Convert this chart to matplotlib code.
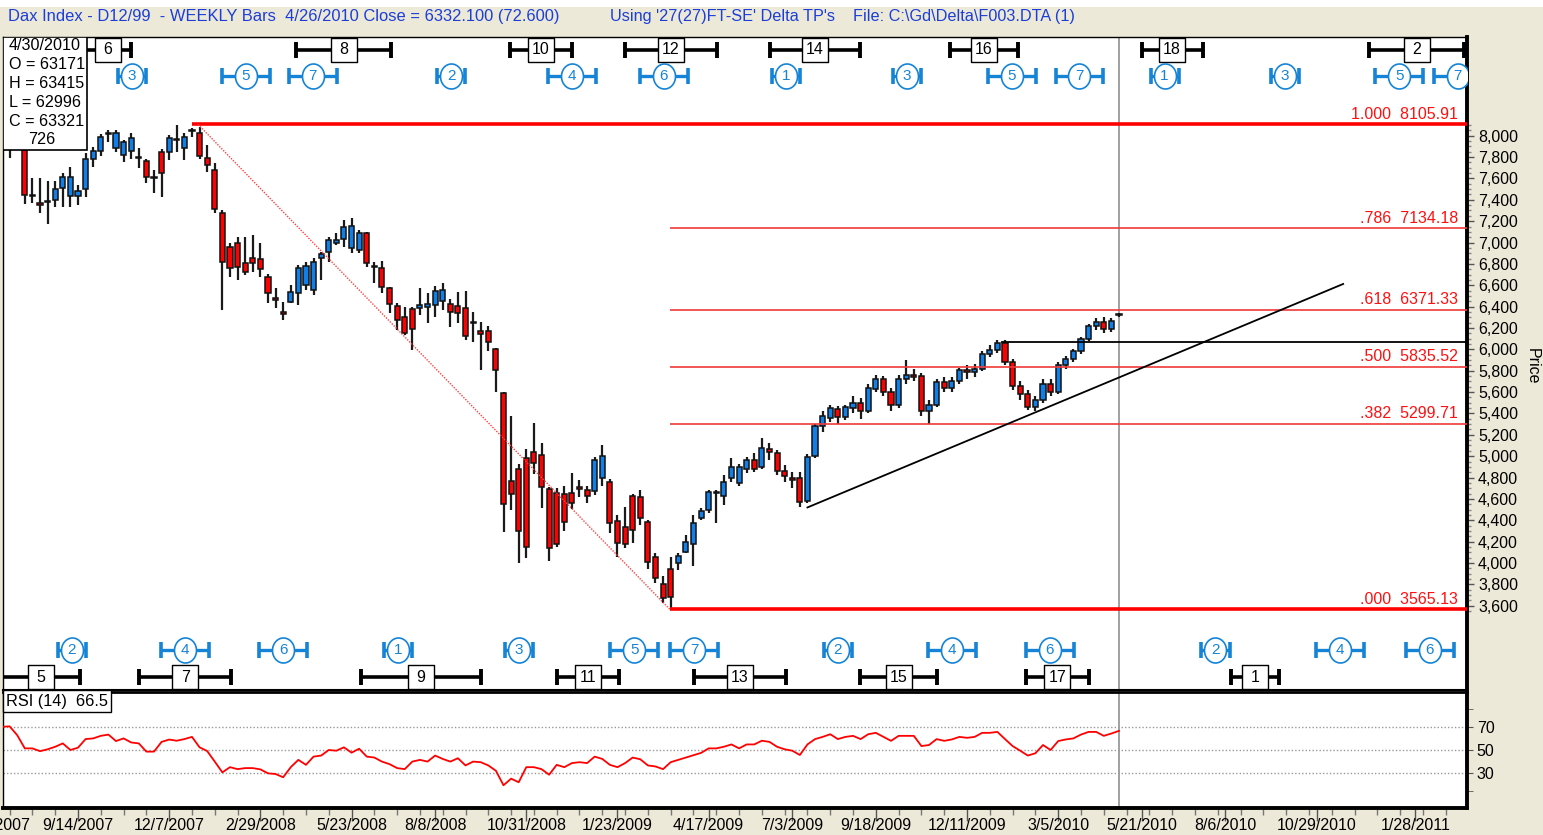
import matplotlib
matplotlib.use("Agg")
import matplotlib.pyplot as plt
import matplotlib.dates as mdates
import matplotlib.transforms as mtransforms
from matplotlib.patches import Rectangle
import numpy as np
import pandas as pd

plt.rcParams['font.family'] = ['Liberation Sans', 'DejaVu Sans']

# ---- data (weekly bars, first bar = week ending 7/6/2007) ----
first_week = '2007-07-06'
opens = [7980, 8000, 8060, 7866, 7443, 7373, 7380, 7398, 7513, 7440,
         7435, 7498, 7779, 7857, 8013, 7882, 7819, 7860, 7800, 7766,
         7612, 7851, 7851, 7958, 7882, 8047, 8028, 7788, 7679, 7279,
         6955, 6998, 6811, 6852, 6842, 6680, 6468, 6346, 6446, 6530,
         6602, 6555, 6852, 6914, 6998, 7030, 6945, 6930, 7086, 6775,
         6764, 6571, 6405, 6299, 6374, 6390, 6399, 6415, 6452, 6421,
         6405, 6384, 6245, 6171, 6171, 6000, 5594, 4767, 4876, 4979,
         5042, 5011, 4692, 4652, 4642, 4658, 4699, 4683, 4674, 4792,
         4755, 4396, 4334, 4630, 4621, 4380, 4053, 3800, 3940, 3997,
         4106, 4174, 4418, 4496, 4658, 4630, 4792, 4745, 4880, 4960,
         4900, 5070, 5030, 4860, 4800, 4800, 4580, 5000, 5280, 5360,
         5440, 5370, 5450, 5500, 5420, 5630, 5720, 5600, 5480, 5720,
         5760, 5750, 5420, 5480, 5690, 5640, 5700, 5810, 5790, 5820,
         5960, 5990, 6060, 5880, 5660, 5580, 5460, 5530, 5680, 5600,
         5850, 5910, 5980, 6100, 6220, 6260, 6190, 6317]
highs = [8060, 8140, 8100, 7880, 7601, 7607, 7576, 7576, 7654, 7710,
         7538, 7835, 7891, 8016, 8053, 8053, 7960, 8022, 7882, 7779,
         7679, 7872, 8007, 8100, 8022, 8069, 8078, 7913, 7748, 7304,
         6992, 7055, 7055, 7070, 6992, 6705, 6571, 6446, 6602, 6789,
         6821, 6852, 6914, 7055, 7086, 7211, 7226, 7117, 7101, 6821,
         6827, 6587, 6430, 6399, 6399, 6571, 6530, 6593, 6618, 6468,
         6540, 6549, 6352, 6259, 6218, 6009, 5603, 5376, 4926, 5063,
         5307, 5126, 4714, 4699, 4720, 4839, 4777, 4720, 4989, 5104,
         4783, 4449, 4521, 4642, 4683, 4402, 4096, 3881, 4059, 4090,
         4262, 4449, 4511, 4680, 4683, 4824, 4980, 4930, 4990, 5030,
         5170, 5120, 5060, 4920, 4850, 4850, 5020, 5300, 5420, 5480,
         5470, 5480, 5560, 5540, 5680, 5760, 5750, 5640, 5760, 5900,
         5820, 5780, 5530, 5720, 5740, 5740, 5830, 5850, 5860, 5980,
         6040, 6090, 6090, 5910, 5700, 5620, 5560, 5720, 5720, 5880,
         5940, 6000, 6120, 6240, 6290, 6300, 6290, 6342]
lows = [7940, 7790, 7880, 7361, 7367, 7279, 7173, 7329, 7329, 7330,
        7351, 7423, 7704, 7810, 7944, 7851, 7757, 7779, 7694, 7554,
        7460, 7429, 7772, 7851, 7772, 7991, 7779, 7663, 7279, 6368,
        6680, 6649, 6696, 6727, 6680, 6430, 6384, 6274, 6430, 6415,
        6555, 6508, 6649, 6821, 6977, 6961, 6899, 6899, 6774, 6618,
        6530, 6337, 6181, 6134, 5994, 6321, 6249, 6306, 6368, 6212,
        6249, 6087, 6072, 5806, 5987, 5603, 4293, 4496, 3996, 4049,
        4830, 4518, 4021, 4152, 4299, 4502, 4614, 4564, 4636, 4720,
        4277, 4059, 4143, 4184, 4355, 3940, 3809, 3628, 3565, 3934,
        4090, 3975, 4402, 4465, 4377, 4543, 4761, 4720, 4840, 4850,
        4880, 4960, 4820, 4760, 4700, 4520, 4560, 4980, 5230, 5320,
        5300, 5340, 5400, 5350, 5400, 5600, 5560, 5420, 5450, 5680,
        5700, 5380, 5300, 5460, 5600, 5600, 5680, 5720, 5740, 5800,
        5930, 5970, 5850, 5620, 5530, 5430, 5420, 5500, 5560, 5580,
        5820, 5880, 5960, 6080, 6180, 6150, 6160, 6300]
closes = [8040, 8060, 7900, 7445, 7437, 7351, 7376, 7498, 7616, 7610,
          7485, 7779, 7857, 7991, 8028, 8028, 7944, 7975, 7795, 7610,
          7608, 7648, 7975, 7962, 7991, 8050, 7810, 7726, 7311, 6821,
          6758, 6768, 6727, 6805, 6749, 6524, 6466, 6327, 6540, 6758,
          6780, 6821, 6892, 7023, 7023, 7148, 7154, 7086, 6805, 6773,
          6580, 6424, 6274, 6156, 6187, 6415, 6421, 6546, 6555, 6349,
          6337, 6125, 6243, 6140, 6065, 5806, 4549, 4643, 4299, 4146,
          4939, 4714, 4137, 4174, 4380, 4558, 4697, 4627, 4964, 5001,
          4371, 4184, 4174, 4309, 4424, 4012, 3856, 3669, 3678, 4065,
          4199, 4371, 4486, 4668, 4662, 4755, 4902, 4900, 4960, 4880,
          5080, 5040, 4860, 4810, 4780, 4570, 4990, 5280, 5380, 5450,
          5370, 5460, 5500, 5420, 5640, 5720, 5600, 5480, 5720, 5760,
          5740, 5420, 5480, 5690, 5640, 5700, 5810, 5790, 5820, 5960,
          5990, 6060, 5880, 5660, 5580, 5460, 5530, 5680, 5600, 5850,
          5910, 5980, 6100, 6220, 6260, 6190, 6270, 6332]
rsi = [70.0, 70.4, 62.8, 51.4, 51.4, 49.0, 50.6, 52.8, 55.7, 50.0,
       52.0, 59.4, 60.0, 62.2, 63.3, 57.7, 60.0, 56.5, 55.7, 48.6,
       48.6, 57.0, 59.0, 58.0, 59.4, 61.3, 52.3, 49.1, 40.0, 30.7,
       35.2, 33.5, 34.4, 34.4, 33.3, 29.9, 29.3, 26.5, 35.2, 41.5,
       37.2, 44.3, 45.2, 50.0, 49.4, 52.3, 47.7, 51.1, 44.3, 43.5,
       40.0, 37.8, 34.4, 33.5, 40.0, 41.5, 40.0, 45.2, 42.3, 40.0,
       42.9, 36.7, 40.0, 39.5, 36.7, 32.1, 19.6, 25.3, 22.2, 35.2,
       35.2, 33.5, 28.7, 37.2, 35.2, 38.7, 39.5, 38.7, 44.3, 42.3,
       37.2, 35.2, 38.7, 43.5, 42.0, 36.7, 35.8, 33.5, 39.5, 41.5,
       43.5, 45.5, 47.5, 51.4, 51.4, 52.8, 54.8, 51.4, 54.8, 54.8,
       58.0, 57.0, 52.8, 50.6, 49.4, 45.7, 54.8, 59.4, 61.3, 63.6,
       59.4, 61.3, 62.2, 59.4, 63.6, 64.8, 61.3, 57.9, 62.2, 62.2,
       62.2, 53.4, 54.3, 59.4, 57.9, 59.1, 61.3, 60.5, 61.3, 64.8,
       64.8, 65.6, 59.4, 53.4, 49.4, 45.2, 47.2, 54.3, 50.0, 57.7,
       59.1, 60.0, 63.3, 65.6, 65.6, 62.2, 64.2, 66.5]

date_labels = ['6/29/2007', '9/14/2007', '12/7/2007', '2/29/2008', '5/23/2008',
               '8/8/2008', '10/31/2008', '1/23/2009', '4/17/2009', '7/3/2009',
               '9/18/2009', '12/11/2009', '3/5/2010', '5/21/2010', '8/6/2010',
               '10/29/2010', '1/28/2011']
fib_ratios = ['1.000', '.786', '.618', '.500', '.382', '.000']
fib_prices = [8105.91, 7134.18, 6371.33, 5835.52, 5299.71, 3565.13]

# time-cycle markers: (label, centre week, half width in weeks); weeks counted from 9/14/2007
top_black = [('6', 3.9, 3.1), ('8', 35.0, 6.25), ('10', 60.9, 4.1), ('12', 78.0, 6.05),
             ('14', 97.0, 5.9), ('16', 119.2, 4.5), ('18', 144.0, 4.0), ('2', 176.2, 6.25)]
top_blue = [('3', 7.1, 1.85), ('5', 22.1, 3.15), ('7', 30.9, 3.15), ('2', 49.1, 1.85),
            ('4', 65.0, 3.15), ('6', 77.1, 3.15), ('1', 93.2, 1.85), ('3', 109.1, 1.85),
            ('5', 122.9, 3.15), ('7', 131.8, 3.15), ('1', 143.0, 1.85), ('3', 158.8, 1.85),
            ('5', 173.9, 3.15), ('7', 181.6, 3.15)]
bottom_blue = [('2', -0.8, 1.85), ('4', 14.1, 3.15), ('6', 27.0, 3.15), ('1', 42.1, 1.85),
               ('3', 58.0, 1.85), ('5', 73.2, 3.15), ('7', 81.1, 3.15), ('2', 100.0, 1.85),
               ('4', 115.0, 3.15), ('6', 127.9, 3.15), ('2', 149.7, 1.85), ('4', 166.1, 3.15),
               ('6', 177.9, 3.15)]
bottom_black = [('5', -4.9, 5.1), ('7', 14.1, 6.1), ('9', 45.1, 7.9), ('11', 67.1, 4.1),
                ('13', 87.1, 6.05), ('15', 108.0, 5.1), ('17', 128.9, 4.2), ('1', 154.9, 3.1)]

# ---- figure ----
W, H = 1543, 835
BG = '#ECE9D8'
BLUE = '#1584D6'
fig = plt.figure(figsize=(W / 100, H / 100), dpi=100, facecolor=BG)
fig.patches.append(Rectangle((0, 1 - 7 / H), 1, 7 / H, transform=fig.transFigure,
                             fc='white', ec='none'))


def px_axes(x0, y0, x1, y1):
    return fig.add_axes([x0 / W, 1 - y1 / H, (x1 - x0) / W, (y1 - y0) / H])


ax = px_axes(3, 37, 1467, 690)
ax2 = px_axes(3, 692, 1467, 808)

dates = pd.date_range(first_week, periods=len(closes), freq='W-FRI')
xd = mdates.date2num(dates)
anchor = mdates.date2num(pd.Timestamp('2007-09-14'))


def wk(k):
    return anchor + 7 * np.asarray(k)


xlim = (wk(-9.87), wk(182.8))
o = np.array(opens, float)
h = np.array(highs, float)
l = np.array(lows, float)
c = np.array(closes, float)

# candles
cols = np.where(c > o, '#0F7FEA', '#FF0000')
ax.vlines(xd, l, h, color='#1a1a1a', lw=1.6, zorder=2)
ax.bar(xd, np.maximum(np.abs(c - o), 10), bottom=np.minimum(o, c), width=4.7,
       color=cols, edgecolor='#111111', linewidth=1.1, zorder=3)

ax.set_xlim(*xlim)
ax.set_ylim(2811, 8924)

# fibonacci retracement lines
for ratio, price in zip(fib_ratios, fib_prices):
    thick = ratio in ('1.000', '.000')
    start = wk(15) if ratio == '1.000' else wk(77.9)
    ax.plot([start, xlim[1]], [price, price], color='#FF0000' if thick else '#F03A3A',
            lw=2.6 if thick else 1.2, zorder=4, solid_capstyle='butt')
    ax.text(1 - 9 / 1464, price + 25, f'{ratio}  {price:.2f}',
            transform=mtransforms.blended_transform_factory(ax.transAxes, ax.transData),
            ha='right', va='bottom', color='#FF1010', fontsize=11.5, zorder=5)

ax.plot([wk(15.8), wk(77.9)], [fib_prices[0], fib_prices[-1]], color='#FF4040',
        lw=1.0, ls=(0, (1, 1)), zorder=4)
ax.plot([wk(96.0), wk(166.5)], [4520, 6612], color='black', lw=1.3, zorder=4)
ax.plot([wk(121.6), xlim[1]], [6070, 6070], color='black', lw=1.3, zorder=4)

ax.axvline(xd[-1], color='#888888', lw=1.1, zorder=1)
ax2.axvline(xd[-1], color='#888888', lw=1.1, zorder=1)

# price axis
ax.yaxis.tick_right()
ax.set_yticks(np.arange(3600, 8001, 200))
ax.set_yticklabels([f'{v:,}' for v in range(3600, 8001, 200)])
ax.set_yticks(np.arange(3550, 8101, 50), minor=True)
ax.tick_params(axis='y', which='major', direction='out', length=5, width=1, color='#555555',
               labelsize=11.5, pad=3)
ax.tick_params(axis='y', which='minor', direction='out', length=3, width=1, color='#888888')
ax.set_xticks([])
for s in ax.spines.values():
    s.set_color('black')
    s.set_linewidth(1)
ax.spines['right'].set_linewidth(2.8)
ax.spines['bottom'].set_linewidth(1.5)
fig.text(1532 / W, 1 - 366 / H, 'Price', rotation=270, ha='center', va='center', fontsize=11.5)

# cycle markers
trx = ax.get_xaxis_transform()
box_verts = [(-13.5, -12), (13.5, -12), (13.5, 12), (-13.5, 12), (-13.5, -12)]
t = np.linspace(0, 2 * np.pi, 60)
ell_verts = list(zip(11 * np.cos(t), 12.5 * np.sin(t)))


def black_marker(label, centre, half, yf):
    xs = [wk(centre - half), wk(centre + half)]
    ax.plot(xs, [yf, yf], color='black', lw=2.6, transform=trx, zorder=6, solid_capstyle='butt')
    ax.plot(xs, [yf, yf], ls='none', marker='|', ms=12, mew=2.8, color='black',
            transform=trx, zorder=6)
    ax.plot([wk(centre)], [yf], ls='none', marker=box_verts, ms=19.4, mfc='white',
            mec='black', mew=1.0, transform=trx, zorder=7)
    ax.text(wk(centre), yf, label, transform=trx, ha='center', va='center',
            fontsize=11.5, zorder=8)


def blue_marker(label, centre, half, yf):
    xs = [wk(centre - half), wk(centre + half)]
    ax.plot(xs, [yf, yf], color=BLUE, lw=2.4, transform=trx, zorder=6, solid_capstyle='butt')
    ax.plot(xs, [yf, yf], ls='none', marker='|', ms=11, mew=2.6, color=BLUE,
            transform=trx, zorder=6)
    ax.plot([wk(centre)], [yf], ls='none', marker=ell_verts, ms=18, mfc='white',
            mec=BLUE, mew=1.2, transform=trx, zorder=7)
    ax.text(wk(centre), yf, label, transform=trx, ha='center', va='center',
            fontsize=11, color=BLUE, zorder=8)


for lab, cen, hw in top_black:
    black_marker(lab, cen, hw, (690 - 50) / 653)
for lab, cen, hw in top_blue:
    blue_marker(lab, cen, hw, (690 - 76) / 653)
for lab, cen, hw in bottom_blue:
    blue_marker(lab, cen, hw, (690 - 650) / 653)
for lab, cen, hw in bottom_black:
    black_marker(lab, cen, hw, (690 - 677) / 653)

# info box (last bar)
ax.add_patch(Rectangle((0, (690 - 150) / 653), 84 / 1464, 113 / 653, transform=ax.transAxes,
                       fc='white', ec='black', lw=1.2, zorder=9))
info = ['4/30/2010', f'O = {opens[-1]}1', f'H = {highs[-1] - 1}5', f'L = {lows[-1] - 1}6',
        f'C = {closes[-1]}1']
for i, line in enumerate(info):
    ax.text(6 / 1464, (690 - 46 - 18.8 * i) / 653, line, transform=ax.transAxes,
            ha='left', va='center', fontsize=11.6, zorder=10)
ax.text(39 / 1464, (690 - 139) / 653, '726', transform=ax.transAxes, ha='center',
        va='center', fontsize=11.6, zorder=10)

# header
fig.text(8 / W, 1 - 16 / H, 'Dax Index - D12/99  - WEEKLY Bars  4/26/2010 Close = 6332.100 (72.600)',
         color='#1C3ED8', fontsize=11.9, ha='left', va='center')
fig.text(610 / W, 1 - 16 / H, "Using '27(27)FT-SE' Delta TP's    File: C:\\Gd\\Delta\\F003.DTA (1)",
         color='#1C3ED8', fontsize=11.7, ha='left', va='center')

# RSI panel
ax2.plot(xd, rsi, color='#FF0000', lw=1.3, zorder=3)
for lvl in (70, 50, 30):
    ax2.axhline(lvl, color='#999999', lw=1, ls=(0, (1, 1.5)), zorder=1)
ax2.set_xlim(*xlim)
ax2.set_ylim(0, 100)
ax2.yaxis.tick_right()
ax2.set_yticks([30, 50, 70])
ax2.set_yticks([15, 85], minor=True)
ax2.tick_params(axis='y', which='both', direction='out', length=4, color='#555555',
                labelsize=11.5, pad=3)
for s in ax2.spines.values():
    s.set_color('black')
    s.set_linewidth(1)
ax2.spines['right'].set_linewidth(2.8)
ax2.spines['bottom'].set_linewidth(2.8)
ax2.spines['top'].set_linewidth(2)
ax2.text(3 / 1464, 0.985, 'RSI (14)  66.5', transform=ax2.transAxes, ha='left', va='top',
         fontsize=11.8, zorder=5,
         bbox=dict(boxstyle='square,pad=0.2', fc='white', ec='black', lw=1))

tick_pos = [mdates.date2num(pd.Timestamp(d)) for d in date_labels]
ax2.set_xticks([p for p in tick_pos if xlim[0] <= p <= xlim[1]])
ax2.set_xticklabels([])
ax2.set_xticks(np.arange(wk(-9), xlim[1], 21), minor=True)
ax2.tick_params(axis='x', which='major', direction='out', length=9, width=1, color='#555555')
ax2.tick_params(axis='x', which='minor', direction='out', length=5, width=1, color='#777777')
trx2 = ax2.get_xaxis_transform()
for p, lab in zip(tick_pos, date_labels):
    ax2.text(p, -(826 - 808) / 116, lab, transform=trx2, ha='center', va='center',
             fontsize=11.5, clip_on=False)

fig.savefig('out.png', dpi=100, facecolor=BG)
